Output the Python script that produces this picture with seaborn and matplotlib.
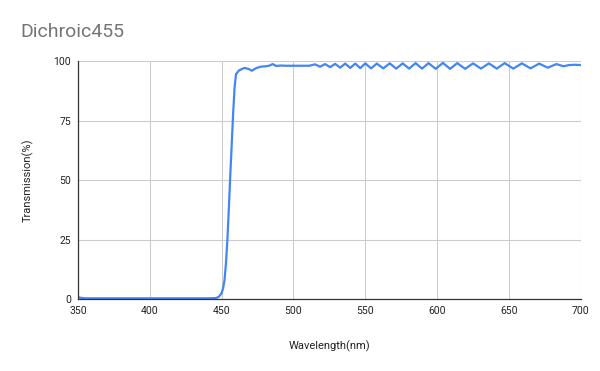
import matplotlib
matplotlib.use("Agg")
import matplotlib.pyplot as plt
import seaborn as sns
import pandas as pd

wavelength = [350, 352, 355, 380, 410, 440, 446, 448, 450, 451, 452, 453, 454, 455, 456, 457, 458, 459, 460,
              462, 464, 466, 469, 471, 474, 477, 481, 483, 485.5, 488, 491, 495, 505, 511,
              515, 518.5, 522, 525.5, 529, 532.5, 536, 539.5, 543, 546.5, 550, 554, 558, 562.5,
              567, 571.5, 576, 580.5, 585, 589.5, 594, 599, 604, 609, 614, 619.5, 625, 630.5,
              636, 641.5, 647, 653, 659, 665, 671, 677, 683, 688, 692, 696, 700]
transmission = [0.8, 0.5, 0.3, 0.3, 0.3, 0.3, 0.4, 0.9, 2.5, 4.5, 8, 15, 25, 38, 52, 65, 78, 89, 94.5,
                96, 96.6, 97.1, 96.6, 95.9, 97.0, 97.6, 97.8, 98.0, 98.7, 97.9, 98.1, 98.0, 98.0, 98.0,
                98.6, 97.6, 98.7, 97.4, 98.8, 97.2, 98.9, 97.1, 98.9, 97.0, 99.0, 96.9, 98.9, 96.9,
                99.0, 96.8, 99.0, 96.8, 99.1, 96.8, 99.1, 96.7, 99.2, 96.7, 99.1, 96.7, 99.0, 96.8,
                99.0, 96.8, 99.1, 96.8, 99.0, 96.9, 98.9, 97.2, 98.7, 97.8, 98.3, 98.4, 98.3]

df = pd.DataFrame({"Wavelength(nm)": wavelength, "Transmission(%)": transmission})

sns.set_theme(style="whitegrid")
plt.rcParams['font.family'] = ['Roboto', 'DejaVu Sans']

fig = plt.figure(figsize=(6, 3.71), dpi=100)
ax = fig.add_axes([0.13, 0.194, 0.838, 0.6416])

sns.lineplot(data=df, x="Wavelength(nm)", y="Transmission(%)", ax=ax,
             color="#4285F4", linewidth=1.6)
for ln in ax.get_lines():
    ln.set_solid_joinstyle("round")

ax.set_xlim(350, 700)
ax.set_ylim(0, 100)
ax.set_xticks([350, 400, 450, 500, 550, 600, 650, 700])
ax.set_yticks([0, 25, 50, 75, 100])
ax.grid(True, color="#cccccc", linewidth=0.8)
ax.tick_params(axis="both", length=0, labelsize=7.5, colors="#222222", pad=5)

for s in ["top", "right"]:
    ax.spines[s].set_visible(False)
ax.spines["left"].set_color("#333333")
ax.spines["bottom"].set_color("#333333")
ax.spines["left"].set_linewidth(0.9)
ax.spines["bottom"].set_linewidth(0.9)

ax.set_xlabel("Wavelength(nm)", fontsize=8, color="#222222", labelpad=18)
ax.set_ylabel("Transmission(%)", fontsize=8, color="#222222", labelpad=14)

fig.text(0.034, 0.914, "Dichroic455", fontsize=14, color="#757575", va="center", ha="left")

fig.savefig("out.png", dpi=100, facecolor="white")
